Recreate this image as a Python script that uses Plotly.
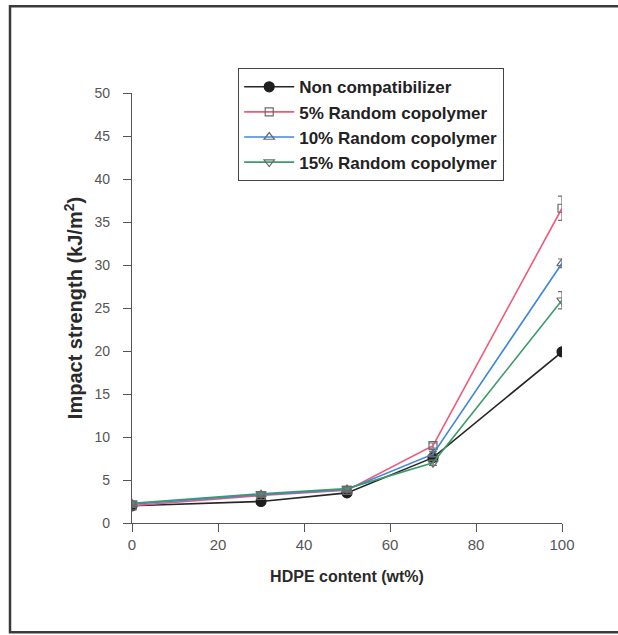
import plotly.graph_objects as go

# HDPE content (wt%)
hdpe = [0, 30, 50, 70, 100]

# Impact strength (kJ/m2) for each blend
non_compat = [2.0, 2.5, 3.5, 7.6, 19.9]
rc5 = [2.0, 3.2, 3.8, 9.0, 36.6]
rc10 = [2.2, 3.3, 3.9, 8.0, 30.2]
rc15 = [2.3, 3.4, 4.0, 7.0, 25.9]

# Standard deviations
err5 = [0.2, 0.2, 0.2, 0.3, 1.4]
err10 = [0.2, 0.2, 0.2, 0.3, 0.5]
err15 = [0.2, 0.2, 0.2, 0.3, 1.0]

series = [
    ("Non compatibilizer", non_compat, None, "#262626", "circle", "#1e1e1e", 10),
    ("5% Random copolymer", rc5, err5, "#ee5a7a", "square-open", "#6a6a6a", 8),
    ("10% Random copolymer", rc10, err10, "#3f86dc", "triangle-up-open", "#6a6a6a", 9),
    ("15% Random copolymer", rc15, err15, "#3c9a6c", "triangle-down-open", "#6a6a6a", 9),
]

fig = go.Figure()
for name, ys, err, col, sym, mcol, msize in series:
    kw = {}
    if err is not None:
        kw["error_y"] = dict(type="data", array=err, visible=True,
                             color="#707070", thickness=1.2, width=4)
    fig.add_trace(go.Scatter(
        x=hdpe, y=ys, name=name, mode="lines+markers",
        line=dict(color=col, width=1.6),
        marker=dict(symbol=sym, size=msize,
                    color=mcol, line=dict(color=mcol, width=1.2)),
        **kw))

# Outer frame
fig.add_shape(type="rect", xref="paper", yref="paper",
              x0=-0.2837, x1=1.2, y0=-0.254, y1=1.202,
              line=dict(color="#3a3a3a", width=2.5), layer="below")

axis_common = dict(
    showgrid=False, zeroline=False, showline=True,
    linecolor="#555555", linewidth=1.2,
    ticks="outside", ticklen=8, tickcolor="#555555", tickwidth=1.2,
)

fig.update_layout(
    width=618, height=635,
    margin=dict(l=132, r=56, t=93, b=112),
    paper_bgcolor="white", plot_bgcolor="white",
    showlegend=True,
    legend=dict(
        x=0.2465, y=1.058, xanchor="left", yanchor="top",
        bordercolor="#444444", borderwidth=1.2, bgcolor="white",
        font=dict(family="Arial, Liberation Sans", size=17, color="#222222", weight="bold"),
        tracegroupgap=0, itemwidth=50,
    ),
    xaxis=dict(
        range=[0, 100], tickvals=[0, 20, 40, 60, 80, 100],
        tickfont=dict(family="Arial, Liberation Sans", size=15, color="#555555"),
        title=dict(text="HDPE content (wt%)", standoff=18,
                   font=dict(family="Arial, Liberation Sans", size=16,
                             color="#2a2a2a", weight="bold")),
        **axis_common),
    yaxis=dict(
        range=[0, 50], tickvals=list(range(0, 51, 5)),
        tickfont=dict(family="Arial, Liberation Sans", size=14, color="#555555"),
        ticklabelstandoff=10,
        title=dict(text="Impact strength (kJ/m<sup>2</sup>)", standoff=6,
                   font=dict(family="Arial, Liberation Sans", size=20,
                             color="#2a2a2a", weight="bold")),
        **axis_common),
)

fig.write_html("out.html")
